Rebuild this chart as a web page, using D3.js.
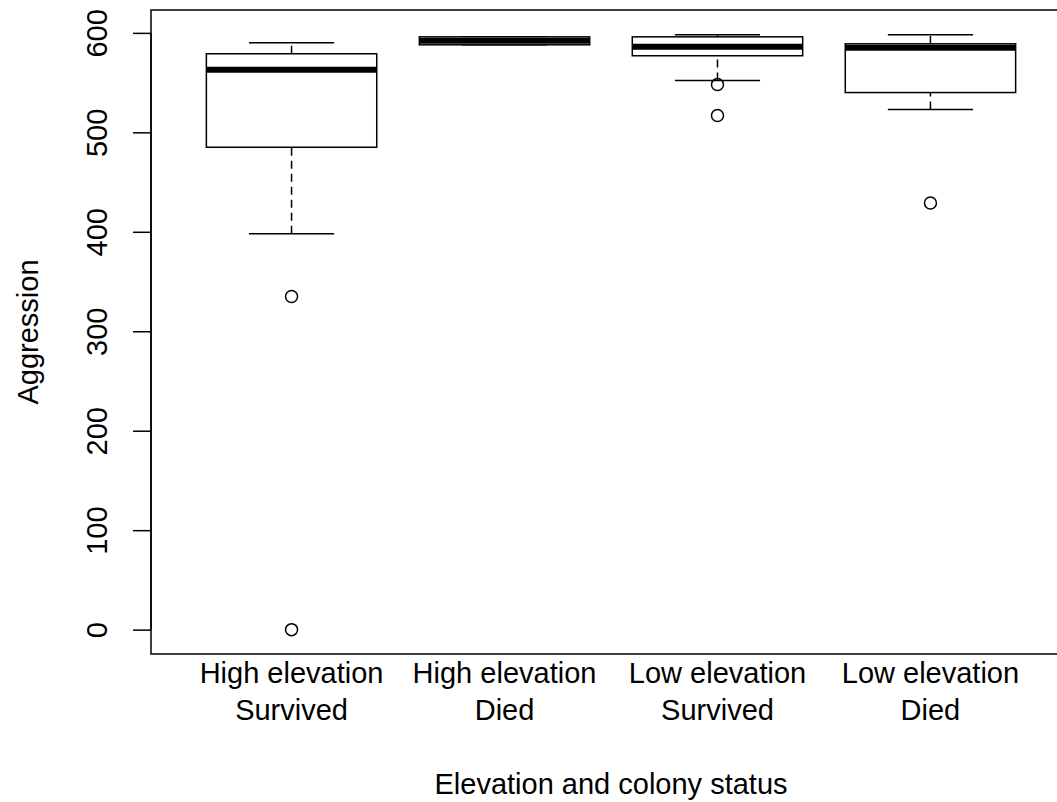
<!DOCTYPE html>
<html>
<head>
    <meta charset="utf-8">
    <title>Aggression boxplot</title>
    <style>
        body { margin: 0; background: #fff; }
        text { font-family: "Liberation Sans", Arial, sans-serif; fill: #000; }
    </style>
</head>
<body>
    <script src="https://cdnjs.cloudflare.com/ajax/libs/d3/7.9.0/d3.min.js"></script>
    <script>

        const categories = ["High elevation\nSurvived", "High elevation\nDied", "Low elevation\nSurvived", "Low elevation\nDied"];
        const whiskerLow = [398, 588, 552, 523];
        const q1 = [485, 588, 577, 540];
        const median = [563, 592, 586, 585];
        const q3 = [579, 596, 596, 589];
        const whiskerHigh = [590, 596, 598, 598];
        const outliers = [[335, 0], [], [548, 517], [429]];
        const yTicks = [0, 100, 200, 300, 400, 500, 600];

        const width = 1057;
        const height = 802;
        // plot region runs past the right edge of the picture
        const plot = {left: 151, right: 1071, top: 10, bottom: 654};
        const fontSize = 29;

        const svg = d3.select("body")
            .append("svg")
            .attr("width", width)
            .attr("height", height);

        const x = d3.scalePoint()
            .domain(categories)
            .range([plot.left, plot.right])
            .padding(0.66);

        const y = d3.scaleLinear()
            .domain([-24.5, 623])
            .range([plot.bottom, plot.top]);

        const boxHalf = x.step() * 0.4;
        const capHalf = boxHalf * 0.5;

        const data = categories.map((c, i) => ({
            cat: c, lo: whiskerLow[i], q1: q1[i], med: median[i], q3: q3[i], hi: whiskerHigh[i], out: outliers[i]
        }));

        const groups = svg.selectAll(".box")
            .data(data)
            .enter()
            .append("g")
            .attr("class", "box");

        // whisker stems
        groups.append("line")
            .attr("x1", d => x(d.cat)).attr("x2", d => x(d.cat))
            .attr("y1", d => y(d.lo)).attr("y2", d => y(d.q1))
            .attr("stroke", "#000").attr("stroke-width", 1.5).attr("stroke-dasharray", "8,5");
        groups.append("line")
            .attr("x1", d => x(d.cat)).attr("x2", d => x(d.cat))
            .attr("y1", d => y(d.q3)).attr("y2", d => y(d.hi))
            .attr("stroke", "#000").attr("stroke-width", 1.5).attr("stroke-dasharray", "8,5");

        // caps
        groups.append("line")
            .attr("x1", d => x(d.cat) - capHalf).attr("x2", d => x(d.cat) + capHalf)
            .attr("y1", d => y(d.lo)).attr("y2", d => y(d.lo))
            .attr("stroke", "#000").attr("stroke-width", 1.5);
        groups.append("line")
            .attr("x1", d => x(d.cat) - capHalf).attr("x2", d => x(d.cat) + capHalf)
            .attr("y1", d => y(d.hi)).attr("y2", d => y(d.hi))
            .attr("stroke", "#000").attr("stroke-width", 1.5);

        // boxes
        groups.append("rect")
            .attr("x", d => x(d.cat) - boxHalf)
            .attr("y", d => y(d.q3))
            .attr("width", boxHalf * 2)
            .attr("height", d => y(d.q1) - y(d.q3))
            .attr("fill", "#fff")
            .attr("stroke", "#000")
            .attr("stroke-width", 1.5);

        // medians
        groups.append("line")
            .attr("x1", d => x(d.cat) - boxHalf).attr("x2", d => x(d.cat) + boxHalf)
            .attr("y1", d => y(d.med)).attr("y2", d => y(d.med))
            .attr("stroke", "#000").attr("stroke-width", 6);

        // outliers
        groups.selectAll("circle")
            .data(d => d.out.map(v => ({cat: d.cat, v: v})))
            .enter()
            .append("circle")
            .attr("cx", d => x(d.cat))
            .attr("cy", d => y(d.v))
            .attr("r", 6)
            .attr("fill", "none")
            .attr("stroke", "#000")
            .attr("stroke-width", 1.5);

        // frame
        svg.append("rect")
            .attr("x", plot.left)
            .attr("y", plot.top)
            .attr("width", plot.right - plot.left)
            .attr("height", plot.bottom - plot.top)
            .attr("fill", "none")
            .attr("stroke", "#000")
            .attr("stroke-width", 1.5);

        // y axis
        const yAxis = svg.append("g")
            .attr("transform", `translate(${plot.left},0)`)
            .call(d3.axisLeft(y).tickValues(yTicks).tickSize(18).tickPadding(0));
        yAxis.select(".domain")
            .attr("d", `M0,${y(0)}V${y(600)}`)
            .attr("stroke-width", 1.5);
        yAxis.selectAll(".tick line").attr("stroke-width", 1.5);
        yAxis.selectAll(".tick text")
            .attr("x", null).attr("dy", null)
            .attr("transform", "translate(-44,0) rotate(-90)")
            .attr("text-anchor", "middle")
            .style("font-family", "Liberation Sans, Arial, sans-serif")
            .style("font-size", fontSize + "px")
            .attr("fill", "#000");

        // x category labels, two lines each
        const xLabels = svg.append("g")
            .selectAll("text")
            .data(categories)
            .enter()
            .append("text")
            .attr("text-anchor", "middle")
            .style("font-size", fontSize + "px");
        xLabels.each(function(c) {
            const parts = c.split("\n");
            d3.select(this).selectAll("tspan")
                .data(parts)
                .enter()
                .append("tspan")
                .attr("x", x(c))
                .attr("y", (p, i) => 683 + i * 37)
                .text(p => p);
        });

        // axis titles
        svg.append("text")
            .attr("x", (plot.left + plot.right) / 2)
            .attr("y", 794)
            .attr("text-anchor", "middle")
            .style("font-size", fontSize + "px")
            .text("Elevation and colony status");

        svg.append("text")
            .attr("transform", `translate(38,${(plot.top + plot.bottom) / 2}) rotate(-90)`)
            .attr("text-anchor", "middle")
            .style("font-size", fontSize + "px")
            .text("Aggression");

    </script>
</body>
</html>
